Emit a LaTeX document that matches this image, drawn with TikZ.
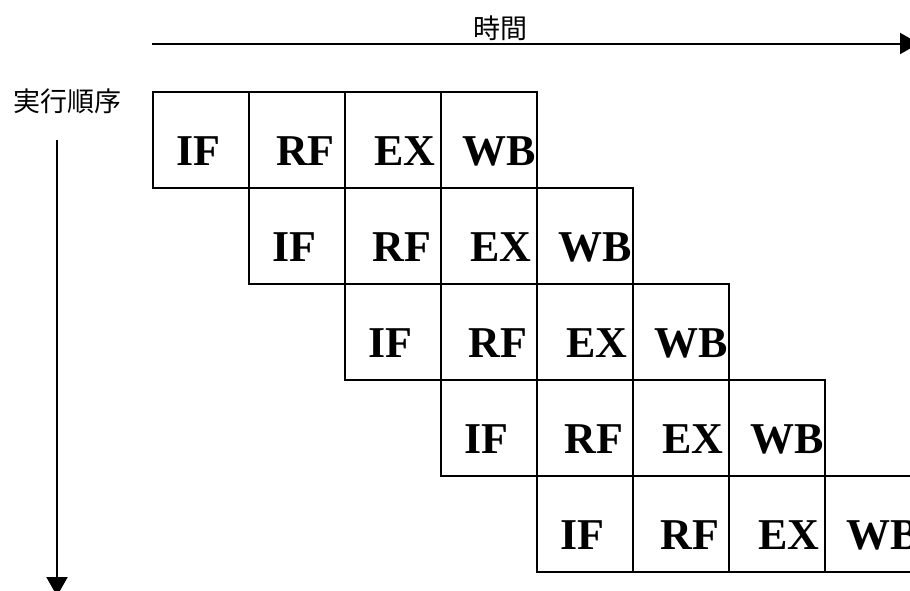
\documentclass[tikz,border=0pt]{standalone}
\usepackage{fontspec}
\setmainfont{Liberation Serif}
\newfontfamily\cjk{Noto Sans CJK JP}
\usetikzlibrary{arrows.meta}
\begin{document}
\begin{tikzpicture}[x=1pt,y=-1pt,
  cellbox/.style={draw,line width=2pt,minimum width=96pt,minimum height=95.9pt,
    inner sep=0pt,outer sep=0pt,anchor=north west},
  stagelabel/.style={inner sep=0pt,anchor=base,font=\fontsize{44}{44}\selectfont\bfseries},
  axislabel/.style={inner sep=0pt,font=\cjk\fontsize{27}{27}\selectfont},
  axisarrow/.style={line width=2pt,-{Triangle[length=19pt,width=21pt]}}]
\useasboundingbox (0,0) rectangle (910,590);
\clip (0,0) rectangle (910,590);

% axes
\coordinate (tstart) at (152,43.5);
\coordinate (tend) at (919,43.5);
\draw[axisarrow] (tstart) -- (tend);
\node[axislabel] (timelabel) at (500,28) {時間};

\coordinate (ostart) at (57,140);
\coordinate (oend) at (57,596);
\draw[axisarrow] (ostart) -- (oend);
\node[axislabel] (orderlabel) at (67.5,101) {実行順序};

% pipeline stages: one row per instruction, shifted by one cycle
\foreach \r in {0,...,4}{
  \foreach \k/\txt/\dx in {0/IF/46,1/RF/57,2/EX/60,3/WB/58.5}{
    \pgfmathsetmacro{\cx}{152.5+96.05*(\r+\k)}
    \pgfmathsetmacro{\cy}{92+95.9*\r}
    \node[cellbox] (cell-\r-\k) at (\cx,\cy) {};
    \node[stagelabel] (stage-\r-\k) at (\cx+\dx,\cy+73.5) {\txt};
  }
}
\end{tikzpicture}
\end{document}
